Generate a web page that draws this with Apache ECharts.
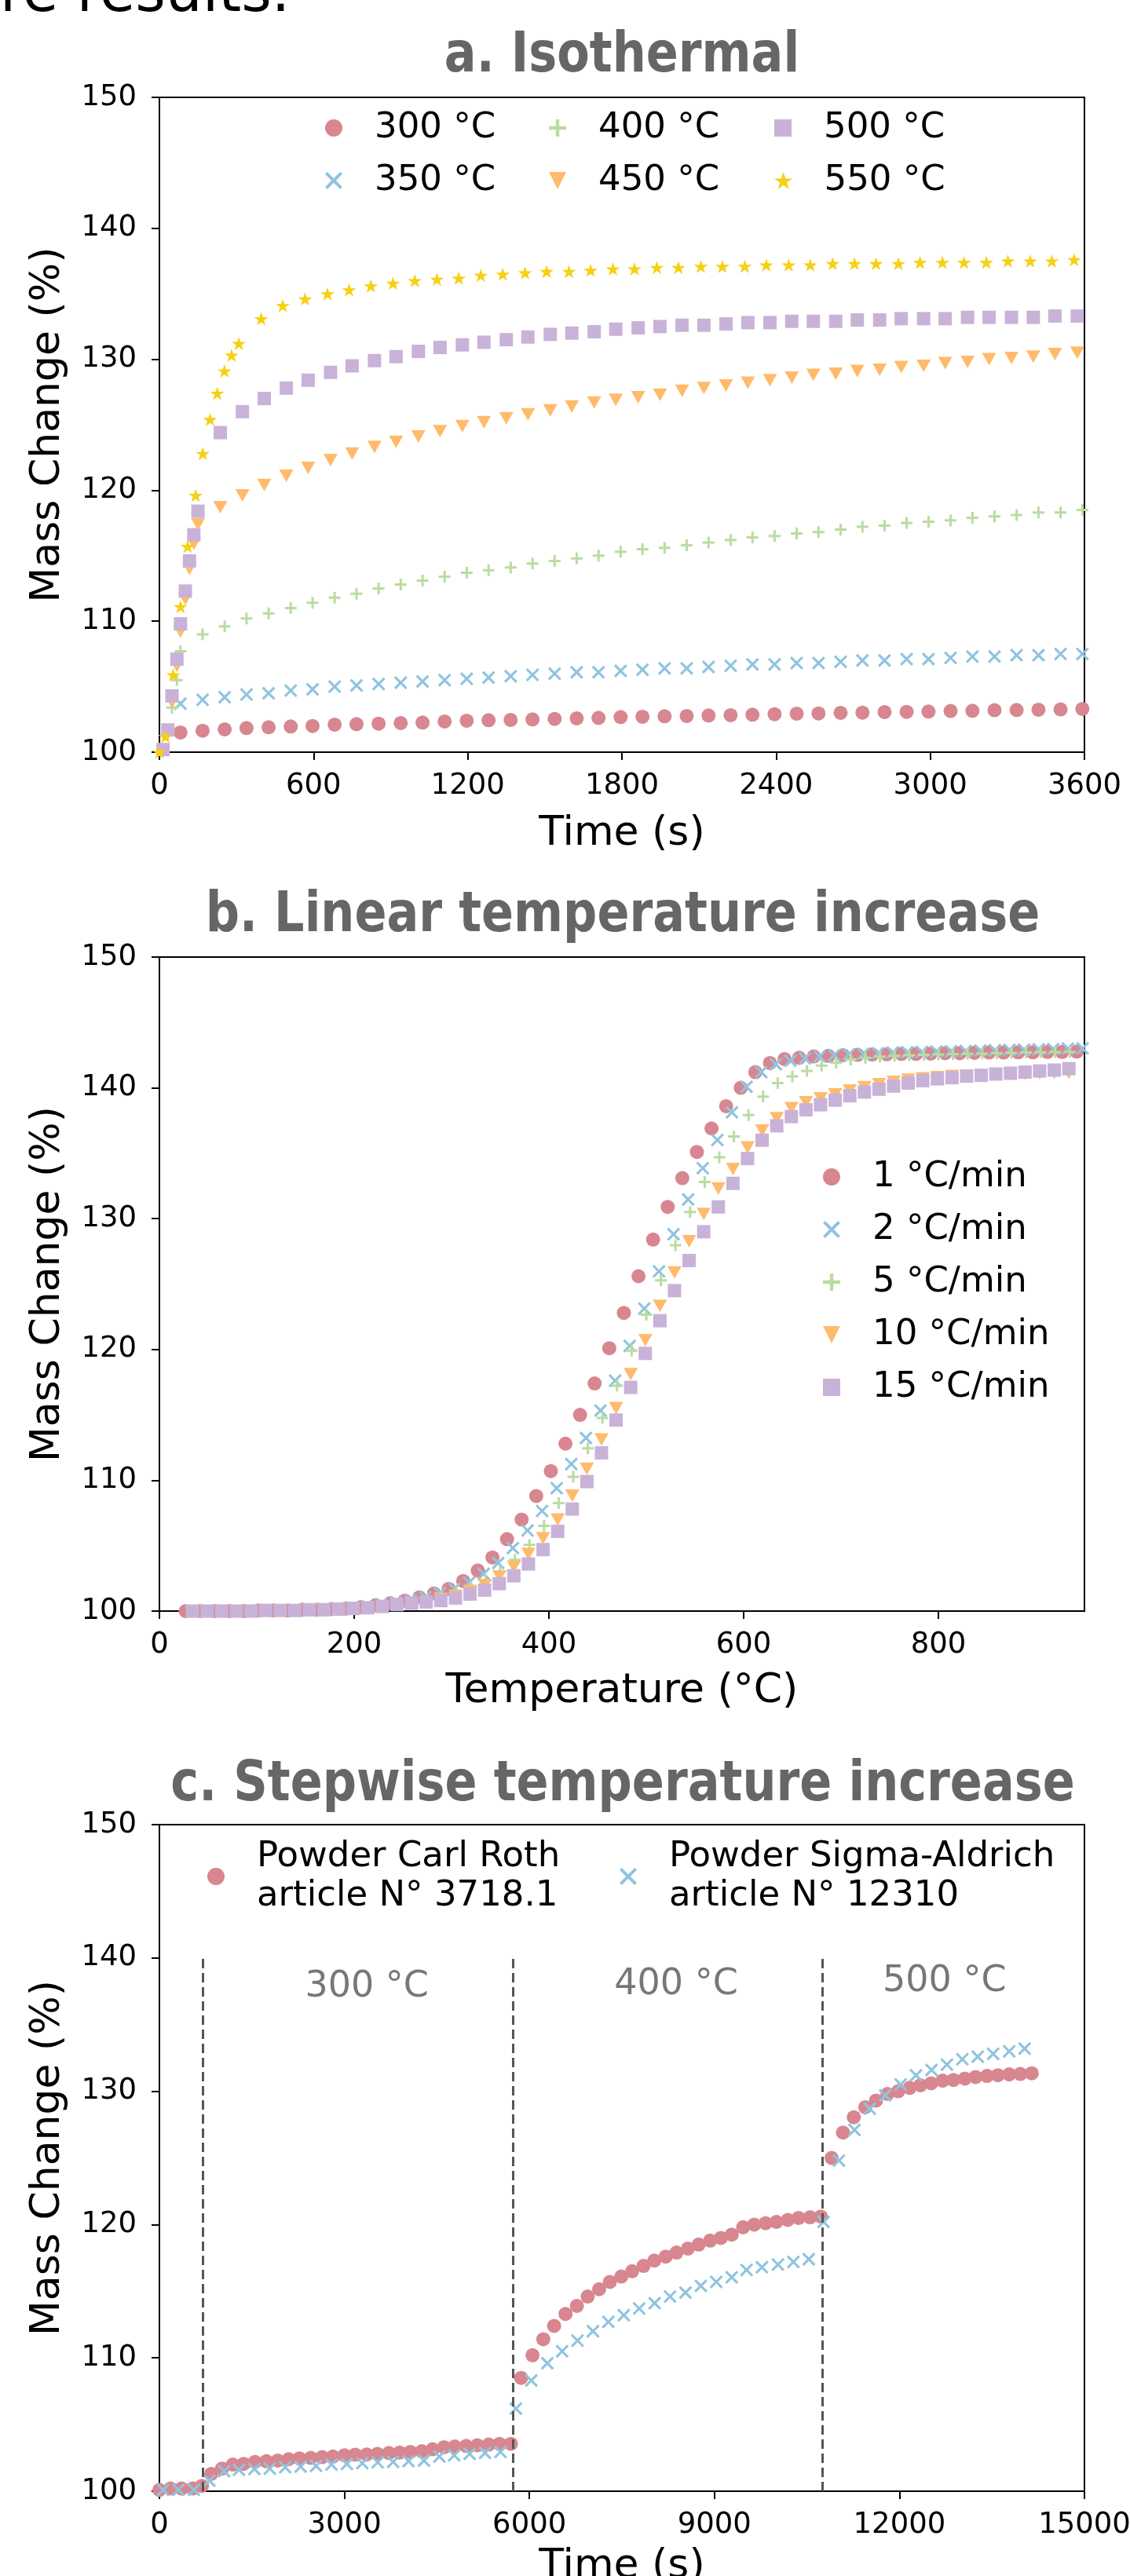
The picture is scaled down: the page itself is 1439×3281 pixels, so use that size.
<!DOCTYPE html>
<html><head><meta charset="utf-8">
<script src="https://cdn.jsdelivr.net/npm/echarts@6.0.0/dist/echarts.min.js"></script>
<style>html,body{margin:0;padding:0;background:#fff;}#c{width:1439px;height:3281px;}</style>
</head><body><div id="c"></div>
<script>
// ---------- a. Isothermal (time in s, mass change in %) ----------
const tA300 = [82,168,254,339,425,511,596,682,767,853,939,1024,1110,1196,1281,1367,1452,1538,1624,1709,1795,1880,1966,2052,2137,2223,2308,2394,2480,2565,2651,2736,2822,2908,2993,3079,3164,3250,3336,3421,3507,3592];
const mA300 = [101.5,101.64,101.74,101.84,101.9,101.96,102.0,102.1,102.14,102.18,102.22,102.26,102.34,102.4,102.44,102.46,102.5,102.54,102.58,102.62,102.68,102.7,102.74,102.76,102.8,102.82,102.86,102.9,102.94,102.96,103.0,103.02,103.06,103.08,103.1,103.14,103.16,103.2,103.22,103.24,103.26,103.3];
const tA350 = [82,168,254,339,425,511,596,682,767,853,939,1024,1110,1196,1281,1367,1452,1538,1624,1709,1795,1880,1966,2052,2137,2223,2308,2394,2480,2565,2651,2736,2822,2908,2993,3079,3164,3250,3336,3421,3507,3592];
const mA350 = [103.7,104.0,104.2,104.4,104.5,104.7,104.8,105.0,105.1,105.2,105.3,105.4,105.5,105.6,105.7,105.8,105.9,106.0,106.1,106.1,106.2,106.3,106.4,106.4,106.5,106.6,106.7,106.7,106.8,106.8,106.9,107.0,107.0,107.1,107.1,107.2,107.3,107.3,107.4,107.4,107.5,107.5];
const tA400 = [49,68,82,168,254,339,425,511,596,682,767,853,939,1024,1110,1196,1281,1367,1452,1538,1624,1709,1795,1880,1966,2052,2137,2223,2308,2394,2480,2565,2651,2736,2822,2908,2993,3079,3164,3250,3336,3421,3507,3592];
const mA400 = [103.4,105.5,107.7,109.0,109.6,110.2,110.6,111.0,111.4,111.8,112.1,112.5,112.8,113.1,113.4,113.7,113.9,114.1,114.4,114.6,114.8,115.0,115.3,115.5,115.6,115.8,116.0,116.2,116.4,116.5,116.7,116.8,117.0,117.2,117.3,117.5,117.6,117.7,117.9,118.0,118.1,118.3,118.3,118.5];
const tA450 = [14,33,49,68,82,101,117,134,150,237,323,408,494,579,666,750,837,921,1008,1092,1179,1263,1350,1434,1521,1605,1692,1776,1863,1948,2034,2119,2205,2290,2376,2461,2545,2632,2716,2803,2887,2974,3058,3145,3229,3316,3401,3485,3572];
const mA450 = [100.1,101.4,103.8,106.6,109.2,111.7,114.0,115.9,117.4,118.7,119.6,120.4,121.1,121.7,122.3,122.8,123.3,123.7,124.1,124.5,124.9,125.2,125.5,125.8,126.1,126.4,126.7,126.9,127.1,127.3,127.6,127.8,128.0,128.2,128.4,128.6,128.8,128.9,129.1,129.2,129.4,129.5,129.7,129.8,130.0,130.1,130.2,130.4,130.5];
const tA500 = [14,33,49,68,82,101,117,134,150,237,323,408,494,579,666,750,837,921,1008,1092,1179,1263,1350,1434,1521,1605,1692,1776,1863,1948,2034,2119,2205,2290,2376,2461,2545,2632,2716,2803,2887,2974,3058,3145,3229,3316,3401,3485,3572];
const mA500 = [100.2,101.7,104.3,107.1,109.8,112.3,114.6,116.6,118.4,124.4,126.0,127.0,127.8,128.4,129.0,129.5,129.9,130.2,130.6,130.9,131.1,131.3,131.5,131.7,131.9,132.0,132.1,132.3,132.4,132.5,132.6,132.6,132.7,132.8,132.8,132.9,132.9,132.9,133.0,133.0,133.1,133.1,133.1,133.2,133.2,133.2,133.2,133.3,133.3];
const tA550 = [0,23,54,82,110,141,169,197,225,253,281,309,396,480,567,654,738,823,909,994,1080,1165,1251,1336,1423,1507,1594,1678,1765,1849,1936,2020,2107,2191,2278,2362,2449,2533,2620,2705,2789,2876,2960,3047,3131,3218,3302,3389,3473,3560];
const mA550 = [100.0,101.2,105.9,111.1,115.7,119.6,122.8,125.4,127.4,129.1,130.3,131.2,133.1,134.1,134.6,135.0,135.3,135.6,135.8,136.0,136.1,136.2,136.4,136.5,136.6,136.7,136.7,136.8,136.9,136.9,137.0,137.0,137.1,137.1,137.1,137.2,137.2,137.2,137.3,137.3,137.3,137.3,137.4,137.4,137.4,137.4,137.5,137.5,137.5,137.6];
const namesA = ['300 °C','350 °C','400 °C','450 °C','500 °C','550 °C'];
const ticksA = {min:0, max:3600, interval:600, values:[0,600,1200,1800,2400,3000,3600]};

// ---------- b. Linear temperature increase (temperature in °C) ----------
const tB1 = [27,42,57,72,87,102,117,132,147,162,177,192,207,222,237,252,267,282,297,312,327,342,357,372,387,402,417,432,447,462,477,492,507,522,537,552,567,582,597,612,627,642,657,672,687,702,717,732,747,762,777,792,807,822,837,852,867,882,897,912,927,942];
const mB1 = [100.0,100.0,100.0,100.0,100.0,100.05,100.05,100.05,100.1,100.1,100.15,100.2,100.3,100.45,100.6,100.8,101.05,101.35,101.7,102.3,103.1,104.1,105.5,107.0,108.8,110.7,112.8,115.0,117.4,120.1,122.8,125.6,128.4,130.9,133.1,135.1,136.9,138.6,140.0,141.2,141.9,142.2,142.3,142.4,142.45,142.5,142.52,142.55,142.57,142.6,142.6,142.62,142.65,142.65,142.68,142.7,142.7,142.72,142.72,142.75,142.75,142.78];
const tB2 = [33,48,63,78,93,108,123,138,153,168,183,198,213,228,243,258,273,288,303,318,333,348,363,378,393,408,423,438,453,468,483,498,513,528,543,558,573,588,603,618,633,648,663,678,693,708,723,738,753,768,783,798,813,828,843,858,873,888,903,918,933,948];
const mB2 = [100.0,100.0,100.0,100.0,100.0,100.05,100.05,100.05,100.1,100.15,100.2,100.25,100.35,100.5,100.65,100.85,101.08,101.38,101.71,102.19,102.85,103.68,104.82,106.16,107.66,109.39,111.24,113.24,115.34,117.61,120.27,123.13,125.97,128.81,131.47,133.86,136.01,138.13,140.08,141.21,141.81,142.08,142.26,142.4,142.5,142.55,142.6,142.65,142.7,142.72,142.75,142.78,142.8,142.82,142.85,142.88,142.9,142.92,142.95,142.97,143.0,143.02];
const tB5 = [35,50,65,80,95,110,125,140,155,170,185,200,215,230,245,260,275,290,305,320,335,350,365,380,395,410,425,440,455,470,485,500,515,530,545,560,575,590,605,620,635,650,665,680,695,710,725,740,755,770,785,800,815,830,845,860,875,890,905,920,935];
const mB5 = [100.0,100.0,100.0,100.0,100.0,100.05,100.05,100.05,100.1,100.1,100.15,100.2,100.3,100.4,100.5,100.65,100.85,101.1,101.4,101.83,102.34,103.03,103.92,105.06,106.52,108.26,110.26,112.44,114.77,117.22,119.91,122.66,125.28,127.97,130.51,132.81,134.7,136.28,137.92,139.33,140.37,140.88,141.3,141.7,141.93,142.16,142.3,142.39,142.45,142.5,142.52,142.55,142.58,142.6,142.62,142.65,142.67,142.7,142.72,142.73,142.75];
const tB10 = [34,49,64,79,94,109,124,139,154,169,184,199,214,229,244,259,274,289,304,319,334,349,364,379,394,409,424,439,454,469,484,499,514,529,544,559,574,589,604,619,634,649,664,679,694,709,724,739,754,769,784,799,814,829,844,859,874,889,904,919,934];
const mB10 = [100.0,100.0,100.0,100.0,100.0,100.05,100.05,100.05,100.1,100.1,100.15,100.2,100.25,100.35,100.45,100.55,100.7,100.93,101.17,101.53,101.98,102.64,103.38,104.37,105.57,107.0,108.82,110.88,113.12,115.51,118.11,120.71,123.34,125.88,128.27,130.36,132.31,133.8,135.44,136.73,137.68,138.45,138.9,139.2,139.5,139.8,140.05,140.27,140.45,140.62,140.73,140.82,140.9,140.94,140.98,141.0,141.06,141.07,141.12,141.15,141.16];
const tB15 = [34,49,64,79,94,109,124,139,154,169,184,199,214,229,244,259,274,289,304,319,334,349,364,379,394,409,424,439,454,469,484,499,514,529,544,559,574,589,604,619,634,649,664,679,694,709,724,739,754,769,784,799,814,829,844,859,874,889,904,919,934];
const mB15 = [100.0,100.0,100.0,100.0,100.0,100.05,100.05,100.05,100.1,100.1,100.15,100.2,100.25,100.35,100.5,100.6,100.7,100.8,101.0,101.3,101.6,102.1,102.7,103.6,104.7,106.1,107.8,109.9,112.1,114.6,117.1,119.7,122.2,124.5,126.8,129.0,130.9,132.7,134.6,136.0,137.1,137.8,138.32,138.71,139.06,139.4,139.68,139.9,140.14,140.37,140.55,140.69,140.78,140.9,140.96,141.06,141.12,141.2,141.29,141.36,141.47];
const namesB = ['1 °C/min','2 °C/min','5 °C/min','10 °C/min','15 °C/min'];
const ticksB = {min:0, max:950, interval:200, values:[0,200,400,600,800]};

// ---------- c. Stepwise temperature increase (time in s) ----------
const tCroth = [0,180,360,540,690,840,1015,1190,1365,1550,1735,1920,2095,2270,2455,2640,2815,3000,3175,3360,3535,3720,3895,4070,4255,4430,4615,4790,4975,5155,5340,5515,5700,5865,6050,6225,6400,6585,6770,6945,7130,7305,7490,7665,7850,8025,8210,8385,8570,8745,8930,9105,9280,9465,9645,9830,10005,10190,10365,10550,10725,10900,11085,11260,11445,11620,11805,11980,12165,12340,12515,12700,12875,13060,13235,13420,13595,13780,13960,14145];
const mCroth = [100.1,100.2,100.2,100.2,100.4,101.3,101.7,102.0,102.05,102.2,102.25,102.3,102.4,102.46,102.5,102.56,102.6,102.7,102.74,102.76,102.8,102.87,102.9,102.95,103.0,103.15,103.3,103.35,103.4,103.45,103.5,103.55,103.55,108.5,110.2,111.4,112.4,113.3,113.9,114.6,115.15,115.7,116.1,116.5,116.9,117.3,117.6,117.9,118.2,118.5,118.8,119.0,119.25,119.8,120.0,120.1,120.2,120.35,120.5,120.55,120.6,125.0,126.9,128.05,128.8,129.3,129.8,130.0,130.25,130.45,130.6,130.8,130.85,130.95,131.07,131.15,131.2,131.27,131.3,131.35];
const tCsigma = [60,310,560,810,1050,1290,1540,1790,2040,2290,2540,2790,3040,3290,3540,3790,4040,4290,4540,4780,5030,5280,5530,5780,6030,6290,6530,6780,7030,7280,7530,7780,8030,8280,8530,8780,9030,9280,9520,9770,10030,10280,10530,10770,11020,11270,11520,11770,12020,12270,12520,12770,13020,13270,13520,13780,14030];
const mCsigma = [100.1,100.1,100.1,100.8,101.5,101.6,101.66,101.7,101.8,101.84,101.9,102.0,102.05,102.1,102.17,102.2,102.25,102.3,102.6,102.7,102.8,102.87,102.95,106.2,108.3,109.6,110.5,111.3,112.0,112.7,113.2,113.7,114.1,114.6,114.9,115.4,115.7,116.05,116.6,116.8,117.0,117.2,117.4,120.2,124.8,127.1,128.7,129.7,130.5,131.2,131.6,132.0,132.4,132.6,132.8,133.0,133.2];
const namesC = ['Powder Carl Roth\narticle N° 3718.1','Powder Sigma-Aldrich\narticle N° 12310'];
const stepTimes = [700, 5730, 10750];
const stepLabelX = [3364, 8379, 12730];
const stepLabelY = [137.8, 138.0, 138.2];
const stepLabelText = ['300 °C','400 °C','500 °C'];
const ticksC = {min:0, max:15000, interval:3000, values:[0,3000,6000,9000,12000,15000]};
const ticksY = {min:100, max:150, interval:10, values:[100,110,120,130,140,150]};

// ---------- styling ----------
const FONT = 'DejaVu Sans';
const COL = {red:'#d8868f', blue:'#8fc4df', green:'#b9dca0', orange:'#ffbb6b', purple:'#c9b2d8', yellow:'#f6d012'};
const SYM = {
  circle:'circle',
  x:'path://M1.3,0 L5,3.7 L8.7,0 L10,1.3 L6.3,5 L10,8.7 L8.7,10 L5,6.3 L1.3,10 L0,8.7 L3.7,5 L0,1.3 Z',
  plus:'path://M4.0,0 H6.0 V4.0 H10 V6.0 H6.0 V10 H4.0 V6.0 H0 V4.0 H4.0 Z',
  tri:'path://M0,0 L10,0 L5,10 Z',
  square:'path://M0,0 H10 V10 H0 Z',
  star:'path://M5,0 L6.123,3.455 L9.755,3.455 L6.817,5.59 L7.939,9.045 L5,6.91 L2.061,9.045 L3.183,5.59 L0.245,3.455 L3.877,3.455 Z'
};

const GL = 203, GW = 1178;
const grids = [
  {left:GL, top:124, width:GW, height:834},
  {left:GL, top:1219, width:GW, height:833},
  {left:GL, top:2324, width:GW, height:849}
].map(g => Object.assign(g, {show:true, borderColor:'#000', borderWidth:2, backgroundColor:'rgba(0,0,0,0)', containLabel:false, outerBoundsMode:'none'}));

function xAx(gi, t, name, gap){
  return {gridIndex:gi, type:'value', min:t.min, max:t.max, interval:t.interval,
    name, nameLocation:'middle', nameGap:gap,
    nameTextStyle:{fontFamily:FONT, fontSize:52, color:'#000'},
    axisLine:{show:false},
    axisTick:{show:true, inside:false, length:10, customValues:t.values, lineStyle:{color:'#000', width:2}},
    axisLabel:{fontFamily:FONT, fontSize:37, color:'#000', margin:25, customValues:t.values, formatter:v=>String(v)},
    splitLine:{show:false}};
}
function yAx(gi){
  return {gridIndex:gi, type:'value', min:ticksY.min, max:ticksY.max, interval:ticksY.interval,
    name:'Mass Change (%)', nameLocation:'middle', nameGap:116,
    nameTextStyle:{fontFamily:FONT, fontSize:52, color:'#000'},
    axisLine:{show:false},
    axisTick:{show:true, inside:false, length:10, customValues:ticksY.values, lineStyle:{color:'#000', width:2}},
    axisLabel:{fontFamily:FONT, fontSize:37, color:'#000', margin:29, customValues:ticksY.values, formatter:v=>String(v)},
    splitLine:{show:false}};
}
function sc(name, gi, xs, ys, symbol, size, color, extra){
  return Object.assign({type:'scatter', name, xAxisIndex:gi, yAxisIndex:gi,
    data: xs.map((x,i)=>[x, ys[i]]), symbol, symbolSize:size,
    itemStyle:{color, opacity:1}, emphasis:{disabled:true}, silent:true, animation:false}, extra||{});
}
// legend icons are 22px wide and centred in a 94px slot; a single-item legend is placed
// by its content box, which starts at the icon's left edge (cx - 11)
function lg(name, cx, cy, lh, lines){
  const h = lh*(lines||1);
  return {data:[name], left:cx-11, top:cy-h/2, itemWidth:94, itemHeight:22, padding:0,
    selectedMode:false, orient:'horizontal',
    textStyle:{fontFamily:FONT, fontSize:45, color:'#000', lineHeight:lh}};
}
function title(text, x, y){
  return {type:'text', x, y, scaleX:0.84, silent:true,
    style:{text, font:'bold 72px "DejaVu Sans"', fill:'#666', textAlign:'center', align:'center', textVerticalAlign:'middle', verticalAlign:'middle'}};
}

const series = [
  sc(namesA[0],0,tA300,mA300,SYM.circle,18,COL.red),
  sc(namesA[1],0,tA350,mA350,SYM.x,17,COL.blue),
  sc(namesA[2],0,tA400,mA400,SYM.plus,15,COL.green),
  sc(namesA[3],0,tA450,mA450,SYM.tri,[18,16],COL.orange),
  sc(namesA[4],0,tA500,mA500,SYM.square,17,COL.purple),
  sc(namesA[5],0,tA550,mA550,SYM.star,[18,17],COL.yellow),
  sc(namesB[0],1,tB1,mB1,SYM.circle,18,COL.red),
  sc(namesB[1],1,tB2,mB2,SYM.x,17,COL.blue),
  sc(namesB[2],1,tB5,mB5,SYM.plus,15,COL.green),
  sc(namesB[3],1,tB10,mB10,SYM.tri,[18,16],COL.orange),
  sc(namesB[4],1,tB15,mB15,SYM.square,17,COL.purple),
  sc(namesC[0],2,tCroth,mCroth,SYM.circle,18,COL.red,{
    markLine:{silent:true, symbol:'none', animation:false, label:{show:false},
      lineStyle:{type:[12,6], color:'#555', width:3, opacity:1},
      data: stepTimes.map(t=>[{coord:[t,100]},{coord:[t,140]}])}
  }),
  sc(namesC[1],2,tCsigma,mCsigma,SYM.x,17,COL.blue),
  {type:'scatter', name:'stepLabels', xAxisIndex:2, yAxisIndex:2, silent:true, animation:false,
    data: stepLabelX.map((x,i)=>[x, stepLabelY[i]]), symbolSize:2, itemStyle:{color:'rgba(255,255,255,0)', opacity:1},
    label:{show:true, position:'inside', formatter:p=>stepLabelText[p.dataIndex],
      fontFamily:FONT, fontSize:46, color:'#777', opacity:1}}
];

const legends = [
  lg(namesA[0],425,163,45), lg(namesA[2],710,163,45), lg(namesA[4],997,163,45),
  lg(namesA[1],425,230,45), lg(namesA[3],710,230,45), lg(namesA[5],997,230,45),
  {data:namesB, left:1059-11, top:1499-22.5, orient:'vertical', itemGap:22, itemWidth:94, itemHeight:22, padding:0,
    selectedMode:false, textStyle:{fontFamily:FONT, fontSize:45, color:'#000', lineHeight:45}},
  lg(namesC[0],275,2390,50,2), lg(namesC[1],800,2390,50,2)
];

const chart = echarts.init(document.getElementById('c'), null, {renderer:'canvas'});
chart.setOption({
  animation:false,
  backgroundColor:'#fff',
  textStyle:{fontFamily:FONT},
  grid: grids,
  xAxis:[xAx(0,ticksA,'Time (s)',78), xAx(1,ticksB,'Temperature (°C)',76), xAx(2,ticksC,'Time (s)',70)],
  yAxis:[yAx(0), yAx(1), yAx(2)],
  legend: legends,
  series,
  graphic:[
    title('a. Isothermal',792,72),
    title('b. Linear temperature increase',793,1167),
    title('c. Stepwise temperature increase',793,2274),
    {type:'text', x:0, y:-5, silent:true,
      style:{text:'re results.', font:'74px "DejaVu Sans"', fill:'#000', textAlign:'left', align:'left', textVerticalAlign:'middle', verticalAlign:'middle'}}
  ]
});
</script></body></html>
